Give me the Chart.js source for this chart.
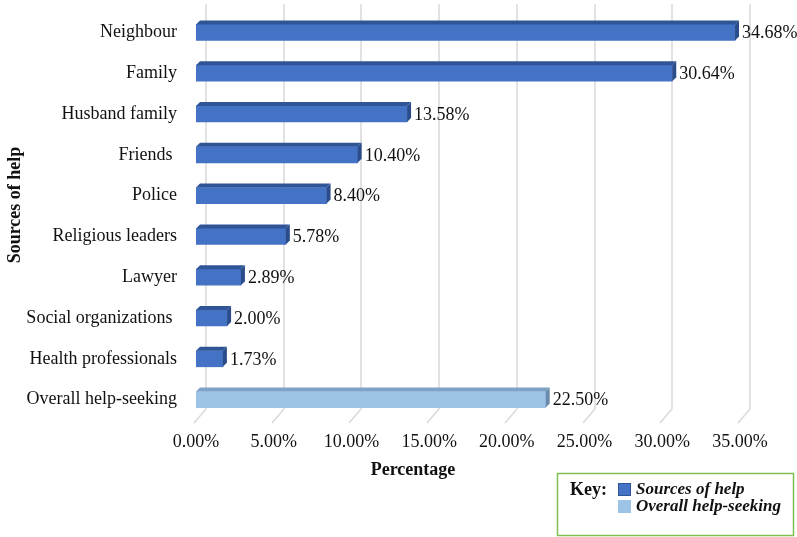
<!DOCTYPE html>
<html>
<head>
<meta charset="utf-8">
<script src="https://cdn.jsdelivr.net/npm/chart.js@4.4.0/dist/chart.umd.min.js"></script>
<style>
  html, body { margin: 0; padding: 0; background: #fff; }
  #wrap { width: 797px; height: 537px; }
</style>
</head>
<body>
<div id="wrap"><canvas id="chart" width="797" height="537"></canvas></div>
<script>
const categories = ['Neighbour', 'Family', 'Husband family', 'Friends ', 'Police', 'Religious leaders', 'Lawyer', 'Social organizations ', 'Health professionals', 'Overall help-seeking'];
const values = [34.68, 30.64, 13.58, 10.40, 8.40, 5.78, 2.89, 2.00, 1.73, 22.50];
const group = [0, 0, 0, 0, 0, 0, 0, 0, 0, 1];
const seriesNames = ['Sources of help', 'Overall help-seeking'];
const xTicks = [0, 5, 10, 15, 20, 25, 30, 35];

const frontCol = ['#4472c4', '#9dc3e6'];
const topCol = ['#2f5597', '#7ea3c6'];
const sideCol = ['#2a4c8a', '#6a8bab'];
const serif = '"Liberation Serif", "Times New Roman", serif';

const pct = v => v.toFixed(2) + '%';

// grid lines sit on the back wall, with short slanted lines down to the labels
const backGrid = {
  id: 'backGrid',
  beforeDatasetsDraw(chart) {
    const ctx = chart.ctx, xs = chart.scales.x, area = chart.chartArea;
    ctx.save();
    ctx.strokeStyle = '#d9d9d9';
    ctx.lineWidth = 1.5;
    xTicks.forEach(v => {
      const px = Math.round(xs.getPixelForValue(v)) + 10;
      ctx.beginPath();
      ctx.moveTo(px, 4);
      ctx.lineTo(px, area.bottom - 11);
      ctx.lineTo(px - 12, area.bottom + 3);
      ctx.stroke();
    });
    ctx.restore();
  }
};

// fake 3d: top and side faces + value labels
const bar3d = {
  id: 'bar3d',
  afterDatasetsDraw(chart) {
    const ctx = chart.ctx;
    const meta = chart.getDatasetMeta(0);
    const d = 4;
    ctx.save();
    meta.data.forEach((bar, i) => {
      const p = bar.getProps(['x', 'y', 'base', 'height'], true);
      const top = p.y - p.height / 2, bot = p.y + p.height / 2;
      const g = group[i];
      ctx.fillStyle = topCol[g];
      ctx.beginPath();
      ctx.moveTo(p.base, top);
      ctx.lineTo(p.base + d, top - d);
      ctx.lineTo(p.x + d, top - d);
      ctx.lineTo(p.x, top);
      ctx.closePath();
      ctx.fill();
      ctx.fillStyle = sideCol[g];
      ctx.beginPath();
      ctx.moveTo(p.x, top);
      ctx.lineTo(p.x + d, top - d);
      ctx.lineTo(p.x + d, bot - d);
      ctx.lineTo(p.x, bot);
      ctx.closePath();
      ctx.fill();
      ctx.fillStyle = '#111';
      ctx.font = '18px ' + serif;
      ctx.textAlign = 'left';
      ctx.textBaseline = 'middle';
      ctx.fillText(pct(values[i]), p.x + d + 3, p.y + 1);
    });
    ctx.restore();
  }
};

// axis titles and the boxed key
const extras = {
  id: 'extras',
  afterDraw(chart) {
    const ctx = chart.ctx;
    ctx.save();
    ctx.fillStyle = '#111';
    ctx.font = 'bold 18px ' + serif;
    ctx.textAlign = 'center';
    ctx.textBaseline = 'middle';
    ctx.fillText('Percentage', 413, 470);
    ctx.translate(15, 205);
    ctx.rotate(-Math.PI / 2);
    ctx.fillText('Sources of help', 0, 0);
    ctx.restore();

    ctx.save();
    ctx.strokeStyle = '#7fbf55';
    ctx.lineWidth = 1.5;
    ctx.strokeRect(557.5, 473.5, 236, 62);
    ctx.fillStyle = '#111';
    ctx.font = 'bold 18px ' + serif;
    ctx.textBaseline = 'middle';
    ctx.fillText('Key:', 570, 490);
    seriesNames.forEach((name, k) => {
      const y = 489 + k * 17;
      ctx.fillStyle = frontCol[k];
      ctx.fillRect(618, y - 6, 13, 13);
      if (k === 0) {
        ctx.strokeStyle = '#2f5597';
        ctx.lineWidth = 1;
        ctx.strokeRect(618.5, y - 5.5, 12, 12);
      }
      ctx.fillStyle = '#111';
      ctx.font = 'italic bold 17px ' + serif;
      ctx.fillText(name, 636, y + 1);
    });
    ctx.restore();
  }
};

new Chart(document.getElementById('chart'), {
  type: 'bar',
  data: {
    labels: categories,
    datasets: [{
      data: values,
      backgroundColor: group.map(g => frontCol[g]),
      borderWidth: 0,
      barThickness: 16
    }]
  },
  options: {
    indexAxis: 'y',
    responsive: false,
    animation: false,
    layout: { padding: { top: 12, right: 57, bottom: 0, left: 0 } },
    plugins: { legend: { display: false }, tooltip: { enabled: false } },
    scales: {
      x: {
        min: 0,
        max: 35,
        afterBuildTicks: s => { s.ticks = xTicks.map(v => ({ value: v })); },
        afterFit: s => { s.height = 117; s.paddingLeft = 0; s.paddingRight = 0; },
        grid: { display: false },
        border: { display: false },
        ticks: {
          padding: 3,
          color: '#111',
          font: { family: serif, size: 18 },
          callback: v => pct(v)
        }
      },
      y: {
        afterFit: s => { s.width = 196; s.paddingTop = 0; s.paddingBottom = 0; },
        grid: { display: false },
        border: { display: false },
        ticks: {
          padding: 11,
          color: '#111',
          font: { family: serif, size: 18 }
        }
      }
    }
  },
  plugins: [backGrid, bar3d, extras]
});
</script>
</body>
</html>
